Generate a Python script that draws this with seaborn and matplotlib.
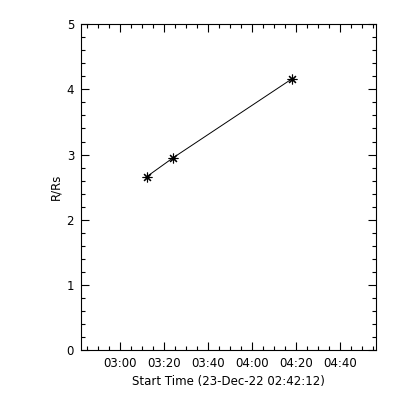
import matplotlib
matplotlib.use("Agg")
import matplotlib.pyplot as plt
import matplotlib.dates as mdates
from matplotlib.ticker import MultipleLocator
import pandas as pd
import seaborn as sns

# height-time points
times = ["2022-12-23 03:12:00", "2022-12-23 03:24:00", "2022-12-23 04:18:00"]
heights = [2.66, 2.95, 4.16]
x_start = "2022-12-23 02:42:12"
x_end = "2022-12-23 04:56:10"
y_ticks = [0, 1, 2, 3, 4, 5]

df = pd.DataFrame({"time": pd.to_datetime(times), "R/Rs": heights})

sns.set_style("ticks")
plt.rcParams["font.family"] = ["DejaVu Sans"]

fig = plt.figure(figsize=(4, 4), dpi=100)
ax = fig.add_axes([0.2025, 0.124, 0.7375, 0.816])

sns.lineplot(data=df, x="time", y="R/Rs", ax=ax, color="black", linewidth=0.7,
             marker=(8, 2, 0), markersize=7, markeredgewidth=0.8,
             markeredgecolor="black")

ax.set_xlim(pd.Timestamp(x_start), pd.Timestamp(x_end))
ax.set_ylim(0, 5)
ax.set_yticks(y_ticks)
ax.yaxis.set_minor_locator(MultipleLocator(0.2))
ax.xaxis.set_major_locator(mdates.MinuteLocator(byminute=[0, 20, 40]))
ax.xaxis.set_minor_locator(mdates.MinuteLocator(byminute=range(0, 60, 5)))
ax.xaxis.set_major_formatter(mdates.DateFormatter("%H:%M"))

ax.tick_params(which="both", direction="in", top=True, right=True,
               labelsize=8.5, colors="black", width=0.8, pad=5)
ax.tick_params(which="major", length=6)
ax.tick_params(which="minor", length=3)
for s in ax.spines.values():
    s.set_linewidth(0.8)
    s.set_color("black")

ax.set_xlabel("Start Time (23-Dec-22 02:42:12)", fontsize=8.5, labelpad=3,
              color="black")
ax.set_ylabel("R/Rs", fontsize=8.5, labelpad=3, color="black")

fig.savefig("out.png", dpi=100, facecolor="white")
